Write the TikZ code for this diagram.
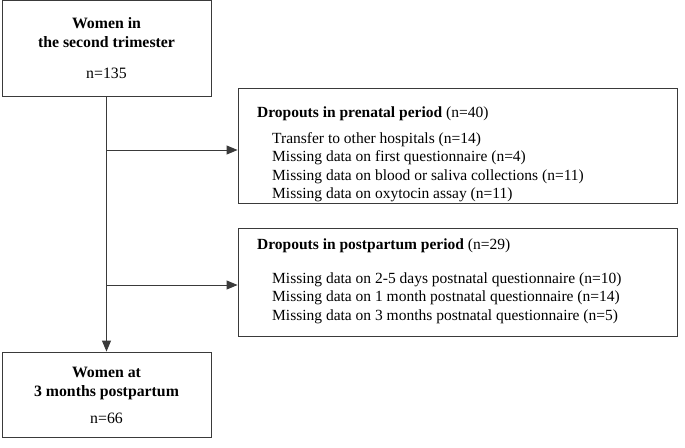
\documentclass[tikz,border=0pt]{standalone}
\usepackage{fontspec}
\setmainfont{Liberation Serif}
\usetikzlibrary{arrows.meta}
\definecolor{linec}{HTML}{3A3A3A}
\begin{document}
\begin{tikzpicture}[x=1pt,y=-1pt,
  box/.style={draw=linec,line width=0.9pt,rectangle,inner sep=0pt},
  txt/.style={font=\fontsize{15.5}{18}\selectfont,inner sep=0pt,anchor=base west,text=black},
  ctxt/.style={font=\fontsize{15.8}{19}\selectfont,inner sep=0pt,align=center,text=black},
  arr/.style={draw=linec,line width=0.9pt,-{Triangle[length=11pt,width=9pt]}}]
\useasboundingbox (0,0) rectangle (685,447);
% main boxes
\node[box,minimum width=209pt,minimum height=96pt] (top) at (106.5,48.5) {};
\node[ctxt,font=\fontsize{15.8}{19}\selectfont\bfseries] (toptitle) at (106.5,33) {Women in\\the second trimester};
\node[ctxt] (topn) at (106.5,73) {n=135};
\node[box,minimum width=209pt,minimum height=85pt] (bot) at (106.5,394.5) {};
\node[ctxt,font=\fontsize{15.8}{19}\selectfont\bfseries] (bottitle) at (106.5,384) {Women at\\3 months postpartum};
\node[ctxt] (botn) at (106.5,418) {n=66};
% side boxes
\node[box,minimum width=439pt,minimum height=115pt] (pre) at (457.5,145.5) {};
\node[box,minimum width=439pt,minimum height=108pt] (post) at (457.5,282) {};
\node[txt] (pret) at (257,117) {\textbf{Dropouts in prenatal period} (n=40)};
\node[txt] (pre1) at (272,143.5) {Transfer to other hospitals (n=14)};
\node[txt] (pre2) at (272,161.8) {Missing data on first questionnaire (n=4)};
\node[txt] (pre3) at (272,180.1) {Missing data on blood or saliva collections (n=11)};
\node[txt] (pre4) at (272,198.4) {Missing data on oxytocin assay (n=11)};
\node[txt] (postt) at (257,249.5) {\textbf{Dropouts in postpartum period} (n=29)};
\node[txt] (post1) at (272,283.5) {Missing data on 2-5 days postnatal questionnaire (n=10)};
\node[txt] (post2) at (272,301.8) {Missing data on 1 month postnatal questionnaire (n=14)};
\node[txt] (post3) at (272,320.1) {Missing data on 3 months postnatal questionnaire (n=5)};
% connectors
\coordinate (j1) at (top.south |- 0,150);
\coordinate (j2) at (top.south |- 0,285);
\draw[arr] (top.south) -- (bot.north);
\draw[arr] (j1) -- (j1 -| pre.west);
\draw[arr] (j2) -- (j2 -| post.west);
\end{tikzpicture}
\end{document}
